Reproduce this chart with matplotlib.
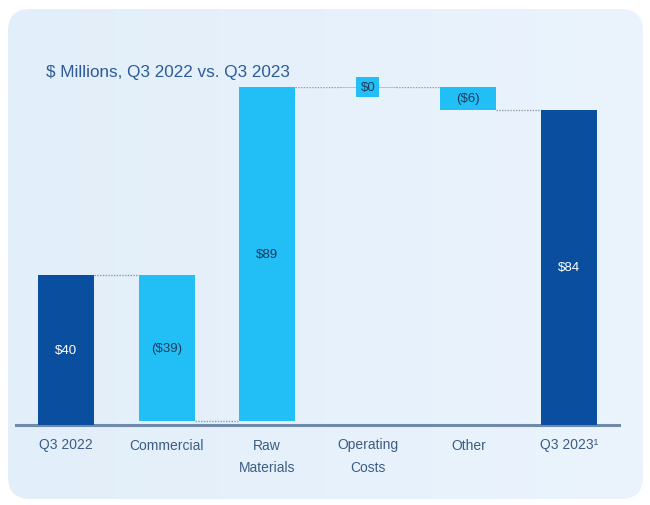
import numpy as np
import matplotlib.pyplot as plt
from matplotlib.colors import LinearSegmentedColormap
from matplotlib.patches import FancyBboxPatch

plt.rcParams['font.family'] = ['Liberation Sans Narrow', 'Liberation Sans', 'DejaVu Sans']

categories = ["Q3 2022", "Commercial", "Raw\nMaterials", "Operating\nCosts", "Other", "Q3 2023\u00b9"]
changes = [40, -39, 89, 0, -6, 84]
is_total = [True, False, False, False, False, True]
value_labels = ["$40", "($39)", "$89", "$0", "($6)", "$84"]

dark_blue = "#0a4f9f"
light_blue = "#22bff7"
text_dark = "#1d3a5c"
tick_color = "#3b5d86"
title_color = "#2c5b9c"

fig = plt.figure(figsize=(6.5, 5.06), dpi=100)
fig.patch.set_facecolor("white")

# rounded light-blue panel with a soft gradient
bg = fig.add_axes([0, 0, 1, 1], zorder=0)
bg.set_xlim(0, 650)
bg.set_ylim(506, 0)
bg.axis("off")
grad = np.linspace(0, 1, 256).reshape(1, -1)
cmap = LinearSegmentedColormap.from_list("p", ["#e2eef9", "#ebf4fd"])
img = bg.imshow(grad, extent=[8, 643, 500, 10], cmap=cmap, aspect="auto")
panel = FancyBboxPatch((8, 10), 635, 490, boxstyle="round,pad=0,rounding_size=22",
                       facecolor="none", edgecolor="none", transform=bg.transData)
bg.add_patch(panel)
img.set_clip_path(panel)

ax = fig.add_axes([15.7 / 650, 1 - 426 / 506, 603.6 / 650, 338 / 506], zorder=1)
ax.patch.set_alpha(0)

x = np.arange(len(categories))
width = 0.557
bottoms = []
heights = []
ends = []
running = 0
for v, tot in zip(changes, is_total):
    if tot:
        bottoms.append(0)
        heights.append(v)
        running = v
    else:
        new = running + v
        bottoms.append(min(running, new))
        heights.append(abs(v))
        running = new
    ends.append(running)

colors = [dark_blue if t else light_blue for t in is_total]
ax.bar(x, heights, width, bottom=bottoms, color=colors, zorder=3)

# zero-height change drawn as a thin line
for i, h in enumerate(heights):
    if h == 0:
        ax.plot([x[i] - width / 2, x[i] + width / 2], [bottoms[i], bottoms[i]],
                color=light_blue, lw=1.2, alpha=0.6, zorder=3)

# dotted connectors
for i in range(len(x) - 1):
    ax.plot([x[i] + width / 2, x[i + 1] - width / 2], [ends[i], ends[i]],
            color="#8a9bb0", lw=1, ls=(0, (1, 1)), zorder=2)

for i, lab in enumerate(value_labels):
    ymid = bottoms[i] + heights[i] / 2
    if heights[i] == 0:
        ax.text(x[i], ymid, lab, ha="center", va="center", fontsize=9.5, color=text_dark,
                zorder=5, bbox=dict(boxstyle="square,pad=0.3", facecolor=light_blue, edgecolor="none"))
    else:
        c = "white" if is_total[i] else text_dark
        ax.text(x[i], ymid, lab, ha="center", va="center", fontsize=9.5, color=c, zorder=5)

ax.set_xlim(-0.5, len(x) - 0.5)
ax.set_ylim(0, 90)
for s in ["top", "right", "left"]:
    ax.spines[s].set_visible(False)
ax.spines["bottom"].set_color("#6f8aaa")
ax.spines["bottom"].set_linewidth(2.2)
ax.set_yticks([])
ax.set_xticks(x)
ax.set_xticklabels(categories, fontsize=10, color=tick_color, linespacing=1.75)
ax.tick_params(axis="x", length=0, pad=9)

fig.text(46 / 650, 1 - 72 / 506, "$ Millions, Q3 2022 vs. Q3 2023", fontsize=12.3,
         color=title_color, ha="left", va="center")

fig.savefig("out.png", dpi=100)
